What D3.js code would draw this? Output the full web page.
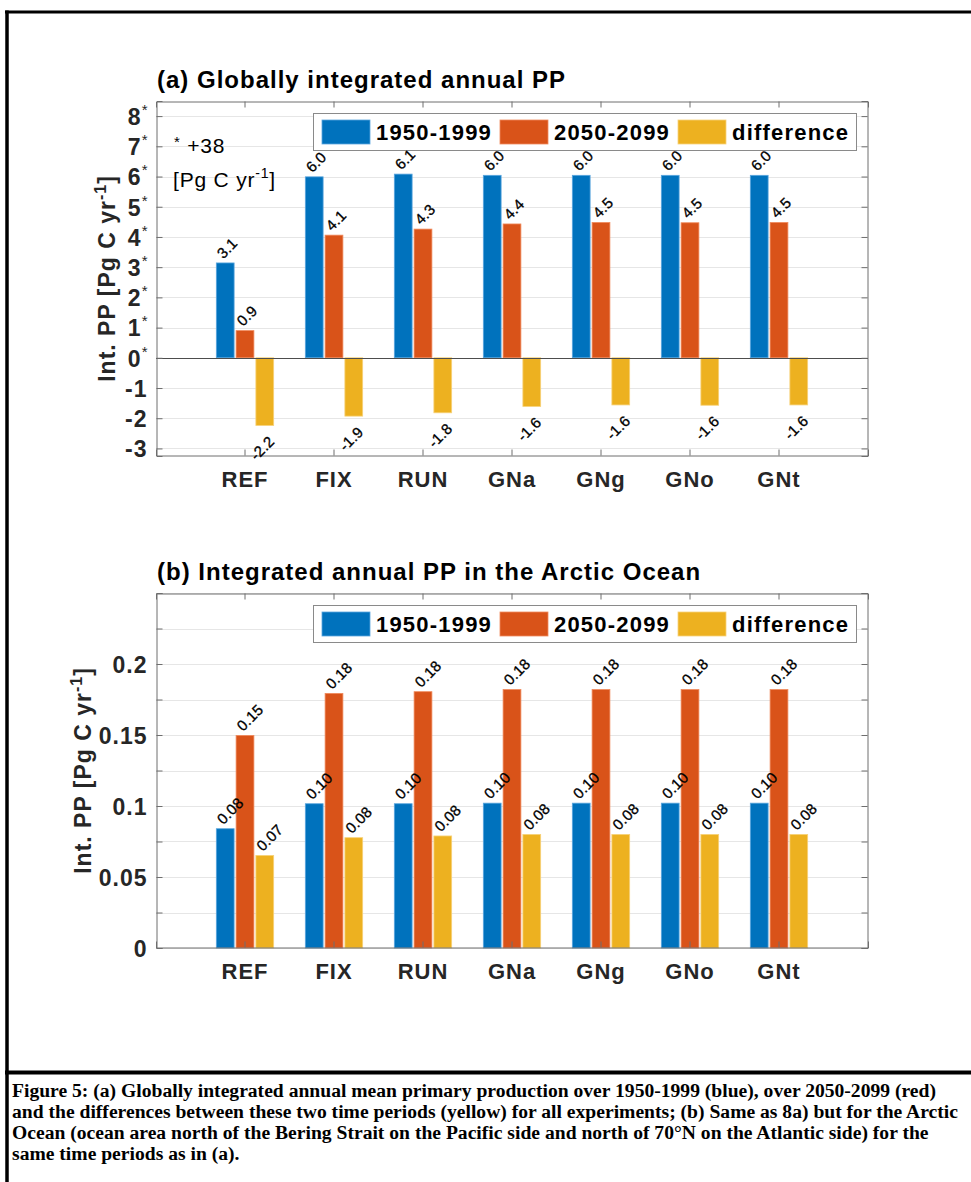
<!DOCTYPE html>
<html>
<head>
<meta charset="utf-8">
<script src="https://cdn.jsdelivr.net/npm/d3@7"></script>
<style>
  html, body { margin: 0; padding: 0; background: #ffffff; }
  svg { display: block; }
</style>
</head>
<body>
<svg id="fig" width="971" height="1182"></svg>
<script>
// ---- data -------------------------------------------------------------
const categories = ["REF", "FIX", "RUN", "GNa", "GNg", "GNo", "GNt"];
const seriesNames = ["1950-1999", "2050-2099", "difference"];
const seriesColors = ["#0072BD", "#D95319", "#EDB120"];
const seriesEdges = ["#5aa6de", "#f08a5c", "#f7d27a"];

// (a) global PP, values are offsets from 38 Pg C / yr
const globalOffset = 38;
const globalPast   = [3.14, 5.99, 6.08, 6.04, 6.04, 6.04, 6.04];
const globalFuture = [0.90, 4.06, 4.26, 4.43, 4.48, 4.47, 4.48];
const globalDiff   = [-2.24, -1.93, -1.82, -1.61, -1.56, -1.57, -1.56];
const globalTicks  = [-3, -2, -1, 0, 1, 2, 3, 4, 5, 6, 7, 8];
const globalDomain = [-3.25, 8.5];

// (b) Arctic Ocean PP
const arcticPast   = [0.084, 0.1016, 0.1016, 0.102, 0.102, 0.102, 0.102];
const arcticFuture = [0.1497, 0.1793, 0.1805, 0.182, 0.182, 0.182, 0.182];
const arcticDiff   = [0.0652, 0.0777, 0.0789, 0.080, 0.080, 0.080, 0.080];
const arcticTicks  = [0, 0.025, 0.05, 0.075, 0.1, 0.125, 0.15, 0.175, 0.2, 0.225, 0.25];
const arcticTickLabels = [0, 0.05, 0.1, 0.15, 0.2];
const arcticDomain = [0, 0.25];

const captionLines = [
  "Figure 5: (a) Globally integrated annual mean primary production over 1950-1999 (blue), over 2050-2099 (red)",
  "and the differences between these two time periods (yellow) for all experiments; (b) Same as 8a) but for the Arctic",
  "Ocean (ocean area north of the Bering Strait on the Pacific side and north of 70°N on the Atlantic side) for the",
  "same time periods as in (a)."
];

// ---- drawing ----------------------------------------------------------
const svg = d3.select("#fig");
const SANS = "'Liberation Sans', Arial, Helvetica, sans-serif";
const SERIF = "'Liberation Serif', 'Times New Roman', serif";

// d3.format emits U+2212 for negatives; use a plain hyphen-minus instead
const plain = spec => { const f = d3.format(spec); return v => f(v).replace("\u2212", "-"); };

// page frame
const frame = svg.append("g").attr("stroke", "#000").attr("fill", "none");
frame.append("line").attr("x1", 5).attr("x2", 971).attr("y1", 12).attr("y2", 12).attr("stroke-width", 3);
frame.append("line").attr("x1", 7).attr("x2", 7).attr("y1", 10.5).attr("y2", 1182).attr("stroke-width", 3.5);
frame.append("line").attr("x1", 5).attr("x2", 971).attr("y1", 1072.5).attr("y2", 1072.5).attr("stroke-width", 4);

function drawPanel(opt) {
  const { top, title, past, future, diff, domain, ticks, tickLabel, labelFmt,
          yTitleX, showBaseline } = opt;
  const left = 156, right = 868, height = 355;
  const bottom = top + height;
  const g = svg.append("g");

  const x0 = d3.scaleBand().domain(categories).range([left, right])
    .paddingInner(0).paddingOuter(0.5);
  const groupW = x0.step() * 2 / 3;
  const x1 = d3.scaleBand().domain(seriesNames).range([0, groupW])
    .paddingInner(0.1).paddingOuter(0.05);
  const y = d3.scaleLinear().domain(domain).range([bottom, top]);

  // grid
  g.append("g").selectAll("line").data(ticks).join("line")
    .attr("x1", left).attr("x2", right)
    .attr("y1", d => Math.round(y(d)) + 0.5).attr("y2", d => Math.round(y(d)) + 0.5)
    .attr("stroke", "#e6e6e6").attr("stroke-width", 1);

  // flattened bar records
  const rows = [];
  categories.forEach((c, i) => {
    [past[i], future[i], diff[i]].forEach((v, k) => rows.push({ cat: c, k, v }));
  });
  const barX = d => x0(d.cat) + x0.bandwidth() / 2 - groupW / 2 + x1(seriesNames[d.k]);

  // bars
  g.append("g").selectAll("rect").data(rows).join("rect")
    .attr("x", barX)
    .attr("width", x1.bandwidth())
    .attr("y", d => y(Math.max(0, d.v)))
    .attr("height", d => Math.abs(y(d.v) - y(0)))
    .attr("fill", d => seriesColors[d.k])
    .attr("stroke", d => seriesEdges[d.k])
    .attr("stroke-width", 0.8);

  // bar baseline at zero
  if (showBaseline) {
    g.append("line").attr("x1", left).attr("x2", right)
      .attr("y1", Math.round(y(0)) + 0.5).attr("y2", Math.round(y(0)) + 0.5)
      .attr("stroke", "#4d4d4d").attr("stroke-width", 1);
  }

  // axes (ticks point inward)
  const axisColor = "#6e6e6e";
  const yAxis = g.append("g").attr("transform", `translate(${left + 0.5},0)`)
    .call(d3.axisLeft(y).tickValues(ticks).tickSize(-6).tickPadding(9).tickFormat(() => ""));
  const yAxisR = g.append("g").attr("transform", `translate(${right - 0.5},0)`)
    .call(d3.axisRight(y).tickValues(ticks).tickSize(-6).tickFormat(() => ""));
  const xAxis = g.append("g").attr("transform", `translate(0,${bottom - 0.5})`)
    .call(d3.axisBottom(x0).tickSize(-6).tickPadding(16));
  const xAxisT = g.append("g").attr("transform", `translate(0,${top + 0.5})`)
    .call(d3.axisTop(x0).tickSize(-6).tickFormat(() => ""));
  [yAxis, yAxisR, xAxis, xAxisT].forEach(a => {
    a.select(".domain").attr("stroke", axisColor).attr("stroke-width", 1);
    a.selectAll(".tick line").attr("stroke", axisColor).attr("stroke-width", 1);
  });
  xAxis.selectAll(".tick text")
    .attr("font-family", SANS).attr("font-size", 22).attr("font-weight", "bold")
    .attr("letter-spacing", 1).attr("fill", "#262626");

  // y tick labels
  yAxis.selectAll(".tick text").each(function (d) {
    const t = d3.select(this).text(null)
      .attr("font-family", SANS).attr("font-size", 23).attr("font-weight", "bold")
      .attr("letter-spacing", 1).attr("fill", "#262626").attr("dy", "0.36em");
    tickLabel(t, d);
  });

  // title
  g.append("text").attr("x", 157).attr("y", top - 13)
    .attr("font-family", SANS).attr("font-size", 24).attr("font-weight", "bold")
    .attr("letter-spacing", 1).attr("fill", "#000").text(title);

  // y-axis title
  const yt = g.append("text")
    .attr("transform", `translate(${yTitleX},${(top + bottom) / 2}) rotate(-90)`)
    .attr("text-anchor", "middle")
    .attr("font-family", SANS).attr("font-size", 23).attr("font-weight", "bold")
    .attr("letter-spacing", 1).attr("fill", "#262626");
  yt.append("tspan").text("Int. PP [Pg C yr");
  yt.append("tspan").attr("font-size", 16).attr("dy", -9).text("-1");
  yt.append("tspan").attr("dy", 9).text("]");

  // legend
  const lg = g.append("g");
  const ly = top + 12;
  lg.append("rect").attr("x", 313.5).attr("y", ly + 0.5).attr("width", 543).attr("height", 37)
    .attr("fill", "#fff").attr("stroke", "#8a8a8a").attr("stroke-width", 1);
  seriesNames.forEach((s, k) => {
    const lx = 322 + k * 178;
    lg.append("rect").attr("x", lx).attr("y", ly + 7).attr("width", 48).attr("height", 24)
      .attr("fill", seriesColors[k]).attr("stroke", seriesEdges[k]).attr("stroke-width", 0.8);
    lg.append("text").attr("x", lx + 54).attr("y", ly + 27)
      .attr("font-family", SANS).attr("font-size", 22).attr("font-weight", "bold")
      .attr("letter-spacing", 1.2).attr("fill", "#000").text(s);
  });

  // value labels, drawn last so they sit above bars and legend
  g.append("g").selectAll("text").data(rows).join("text")
    .attr("transform", d => {
      const cx = barX(d) + x1.bandwidth() / 2;
      return d.v >= 0
        ? `translate(${cx - 2},${y(d.v) - 3.5}) rotate(-45)`
        : `translate(${cx + 10.5},${y(d.v) + 17}) rotate(-45)`;
    })
    .attr("text-anchor", d => d.v >= 0 ? "start" : "end")
    .attr("font-family", SANS).attr("font-size", 15).attr("letter-spacing", 0.2)
    .attr("fill", "#000").attr("stroke", "#000").attr("stroke-width", 0.3)
    .text(d => labelFmt(d.v));

  return { g, y };
}

// panel (a)
const pa = drawPanel({
  top: 101,
  title: "(a) Globally integrated annual PP",
  past: globalPast, future: globalFuture, diff: globalDiff,
  domain: globalDomain, ticks: globalTicks,
  tickLabel: (t, d) => {
    t.append("tspan").text(d);
    if (d >= 0) t.append("tspan").attr("font-size", 15).attr("font-weight", "normal")
      .attr("dy", -10).attr("letter-spacing", 0).text("*");
  },
  labelFmt: plain(".1f"),
  yTitleX: 115,
  showBaseline: true
});

// offset note inside panel (a)
const note = pa.g.append("g").attr("font-family", SANS).attr("font-size", 21)
  .attr("letter-spacing", 0.8).attr("fill", "#000");
const n1 = note.append("text").attr("x", 174).attr("y", 153);
n1.append("tspan").attr("font-size", 15).attr("dy", -6).text("*");
n1.append("tspan").attr("dy", 6).text(" +" + globalOffset);
const n2 = note.append("text").attr("x", 173).attr("y", 187);
n2.append("tspan").text("[Pg C yr");
n2.append("tspan").attr("font-size", 14).attr("dy", -9).text("-1");
n2.append("tspan").attr("dy", 9).text("]");

// panel (b)
drawPanel({
  top: 593,
  title: "(b) Integrated annual PP in the Arctic Ocean",
  past: arcticPast, future: arcticFuture, diff: arcticDiff,
  domain: arcticDomain, ticks: arcticTicks,
  tickLabel: (t, d) => {
    const hit = arcticTickLabels.find(v => Math.abs(v - d) < 1e-9);
    if (hit !== undefined) t.text(d3.format("")(hit));
  },
  labelFmt: plain(".2f"),
  yTitleX: 91,
  showBaseline: false
});

// caption
const cap = svg.append("text").attr("font-family", SERIF).attr("font-size", 19.6)
  .attr("font-weight", "bold").attr("fill", "#000");
captionLines.forEach((line, i) => {
  cap.append("tspan").attr("x", 12).attr("y", 1097 + i * 21).text(line);
});
</script>
</body>
</html>
